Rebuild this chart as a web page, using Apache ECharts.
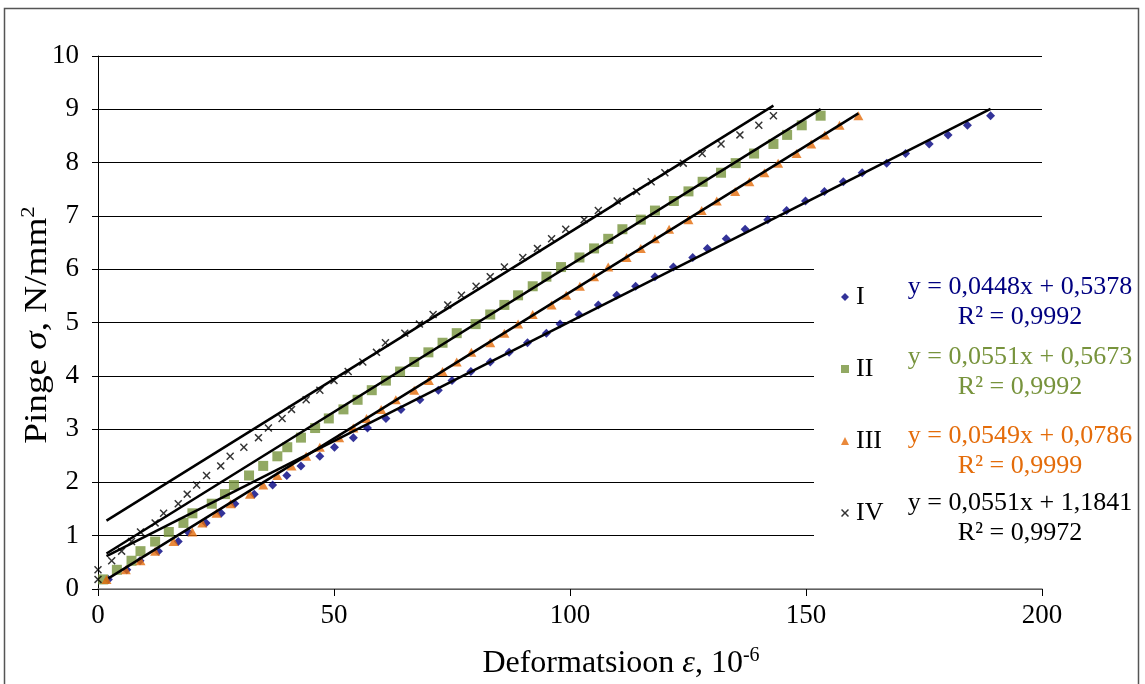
<!DOCTYPE html>
<html>
<head>
<meta charset="utf-8">
<script src="https://cdn.jsdelivr.net/npm/echarts@6/dist/echarts.min.js"></script>
<style>
html,body{margin:0;padding:0;background:#fff;}
#chart{width:1145px;height:684px;}
</style>
</head>
<body>
<div id="chart"></div>
<script>
// Stress levels (N/mm²), shared by all four specimens
const stress = [0.18,0.36,0.53,0.71,0.89,1.07,1.24,1.42,1.60,1.78,1.95,2.13,2.31,2.49,2.66,2.84,3.02,3.20,3.37,3.55,3.73,3.91,4.08,4.26,4.44,4.62,4.80,4.97,5.15,5.33,5.51,5.68,5.86,6.04,6.22,6.39,6.57,6.75,6.93,7.10,7.28,7.46,7.64,7.81,7.99,8.17,8.35,8.52,8.70,8.88];
// Strain (10^-6) per specimen
const strainI = [2.2,6.1,8.9,12.8,17.0,19.1,22.9,26.1,29.0,33.1,37.0,40.0,43.0,47.0,50.1,54.1,57.1,61.0,64.2,68.2,72.1,75.0,79.0,83.1,87.1,91.0,95.0,97.9,101.9,106.0,109.9,113.9,118.0,121.9,126.0,129.1,133.1,137.1,141.9,145.9,149.9,153.9,157.9,161.9,167.1,171.1,176.1,180.1,184.2,189.1];
const strainII = [1.1,4.0,7.1,9.0,12.1,15.0,18.1,20.0,24.1,26.9,28.8,32.0,35.0,38.0,40.1,43.0,46.0,48.9,52.0,55.0,58.0,61.0,64.0,67.0,70.0,73.0,76.0,80.0,83.1,86.1,89.0,92.1,95.0,98.1,102.0,105.1,108.1,111.1,115.0,118.0,122.0,125.1,128.1,132.0,135.1,139.0,143.1,146.0,149.1,153.1];
const strainIII = [1.8,5.9,9.0,12.1,16.0,20.0,22.1,25.1,28.1,32.2,35.0,38.0,41.0,44.1,47.0,51.1,54.1,56.9,60.0,63.1,67.0,70.1,73.0,76.0,79.1,83.1,86.1,89.0,92.1,96.1,99.2,102.1,105.1,108.1,112.0,115.0,118.0,121.0,125.1,127.9,131.1,135.0,138.0,141.2,144.1,148.0,151.1,154.0,157.1,161.1];
const strainIV = [0.0,0.0,2.9,5.0,7.1,9.0,12.1,13.9,17.0,18.9,20.9,23.0,26.0,28.0,30.9,34.0,36.1,39.0,41.0,44.1,47.0,50.0,53.0,56.1,59.0,60.9,65.0,68.1,71.0,74.1,77.0,80.1,83.1,86.1,90.0,93.1,96.1,99.1,103.0,106.0,110.0,114.1,117.2,120.1,124.0,128.0,132.0,136.0,140.0,143.1];

const seriesNames = ['I','II','III','IV'];
const seriesColors = ['#000080','#77933C','#E46C0A','#000000'];
// Linear trendlines: slope, intercept, start x, end x
const slopes = [0.0448,0.0551,0.0549,0.0551];
const intercepts = [0.5378,0.5673,0.0786,1.1841];
const trendStart = [1.8,1.8,2.2,1.8];
const trendEnd = [189.1,153.1,161.1,143.1];
const eqTexts = ['y = 0,0448x + 0,5378','y = 0,0551x + 0,5673','y = 0,0549x + 0,0786','y = 0,0551x + 1,1841'];
const r2Texts = ['R² = 0,9992','R² = 0,9992','R² = 0,9999','R² = 0,9972'];

const FONT = '"Liberation Serif","Times New Roman",serif';

const strains = [strainI,strainII,strainIII,strainIV];
const crossPath = 'path://M0,1.3L1.3,0L5,3.7L8.7,0L10,1.3L6.3,5L10,8.7L8.7,10L5,6.3L1.3,10L0,8.7L3.7,5Z';
const symbols = ['diamond','rect','triangle',crossPath];
const symbolSizes = [[9,9],[10,10],[10,9],[8,8]];

const series = [];
strains.forEach((xs,i)=>{
  series.push({
    name: seriesNames[i], type:'scatter',
    data: xs.map((x,k)=>[x, stress[k]]),
    symbol: symbols[i], symbolSize: symbolSizes[i],
    itemStyle:{color: seriesColors[i]},
    z: 2, animation:false
  });
});
strains.forEach((xs,i)=>{
  const a = trendStart[i], b = trendEnd[i];
  series.push({
    name: 'trend'+i, type:'line',
    data: [[a, slopes[i]*a+intercepts[i]],[b, slopes[i]*b+intercepts[i]]],
    symbol:'none', lineStyle:{color:'#000', width:2.5},
    z: 3, animation:false, silent:true
  });
});

const graphics = [
  {type:'rect', z:-1, shape:{x:4.5,y:8.5,width:1134,height:720}, style:{fill:'#fff', stroke:'#555', lineWidth:1.5}},
  {type:'rect', z:3, shape:{x:814,y:245,width:322,height:318}, style:{fill:'#fff'}},
  {type:'text', z:5, x:38, y:325, rotation:Math.PI/2, scaleX:1.2,
    style:{text:'{a|Pinge }{i|σ}{a|, N/mm}{s|2}', textAlign:'center', textVerticalAlign:'middle',
      rich:{a:{fontSize:31, fontFamily:FONT, fill:'#000', lineHeight:36},
            i:{fontSize:31, fontFamily:FONT, fontStyle:'italic', fill:'#000', lineHeight:36},
            s:{fontSize:19, fontFamily:FONT, fill:'#000', verticalAlign:'top', lineHeight:36}}}},
  {type:'text', z:5, x:621, y:664,
    style:{text:'{a|Deformatsioon }{i|ε}{a|, 10}{s|-6}', textAlign:'center', textVerticalAlign:'middle',
      rich:{a:{fontSize:32, fontFamily:FONT, fill:'#000', lineHeight:36},
            i:{fontSize:32, fontFamily:FONT, fontStyle:'italic', fill:'#000', lineHeight:36},
            s:{fontSize:20, fontFamily:FONT, fill:'#000', verticalAlign:'top', lineHeight:36}}}}
];
const eqY = [287,357,436,503];
eqTexts.forEach((t,i)=>{
  graphics.push({type:'text', z:5, x:1020, y:eqY[i], style:{text:t, fill:seriesColors[i], font:'26px '+FONT, textAlign:'center', textVerticalAlign:'middle'}});
  graphics.push({type:'text', z:5, x:1020, y:eqY[i]+30, style:{text:r2Texts[i], fill:seriesColors[i], font:'26px '+FONT, textAlign:'center', textVerticalAlign:'middle'}});
});

const option = {
  backgroundColor:'#fff',
  animation:false,
  grid:{left:98, right:103, top:56, bottom:95},
  xAxis:{type:'value', min:0, max:200, interval:50,
    axisLine:{show:true, lineStyle:{color:'#808080', width:1.5}},
    axisTick:{show:true, length:7, lineStyle:{color:'#000'}},
    splitLine:{show:false},
    axisLabel:{fontSize:27, fontFamily:FONT, color:'#000', margin:13}},
  yAxis:{type:'value', min:0, max:10, interval:1,
    axisLine:{show:true, lineStyle:{color:'#000', width:1}},
    axisTick:{show:true, length:6, lineStyle:{color:'#000'}},
    splitLine:{show:true, lineStyle:{color:'#000', width:1}},
    axisLabel:{fontSize:27, fontFamily:FONT, color:'#000', margin:19}},
  legend:{data:seriesNames, orient:'vertical', left:836, top:279, itemGap:46, itemWidth:8, itemHeight:8, z:4,
    textStyle:{fontSize:26, fontFamily:FONT, color:'#000', padding:[0,0,0,2]}},
  graphic: graphics,
  series: series
};
const chart = echarts.init(document.getElementById('chart'), null, {renderer:'canvas'});
chart.setOption(option);
</script>
</body>
</html>
